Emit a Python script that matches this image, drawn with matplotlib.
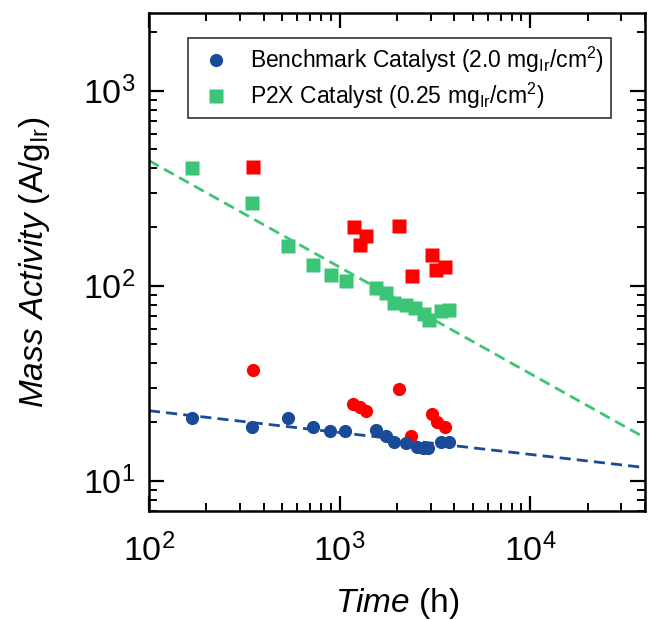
import matplotlib.pyplot as plt
import numpy as np

plt.rcParams['font.family'] = ['Liberation Sans', 'DejaVu Sans']
plt.rcParams['mathtext.fontset'] = 'custom'
plt.rcParams['mathtext.rm'] = 'Liberation Sans'
plt.rcParams['mathtext.it'] = 'Liberation Sans:italic'

# benchmark catalyst (blue circles)
t_bench = [169, 345, 534, 721, 891, 1069, 1545, 1755, 1926, 2217, 2560, 2730, 2912, 3415, 3727]
ma_bench = [20.9, 18.8, 21.0, 18.8, 18.0, 18.0, 18.2, 17.0, 15.85, 15.7, 14.9, 14.8, 14.8, 15.9, 15.9]

# P2X catalyst (green squares)
t_p2x = [169, 345, 534, 724, 896, 1077, 1545, 1755, 1926, 2217, 2500, 2763, 2933, 3415, 3727]
ma_p2x = [401, 265, 160, 128, 114, 106, 97, 92, 82, 80, 77, 72, 67, 74, 75]

# red points
t_red_circ = [352, 1175, 1275, 1380, 2043, 2382, 3052, 3236, 3560]
ma_red_circ = [37.0, 24.9, 23.8, 22.9, 29.7, 17.0, 22.1, 19.9, 18.9]
t_red_sq = [352, 1191, 1275, 1371, 2043, 2400, 3052, 3203, 3560]
ma_red_sq = [407, 199, 162, 179, 202, 112, 143, 121, 125]

# power-law fits  y = a * t^b
fit_bench = (38.3, -0.112)
fit_p2x = (5410, -0.546)

blue = '#1a4b98'
green = '#3cc477'
red = '#ff0000'

fig = plt.figure(figsize=(6.49, 6.2), dpi=100)
ax = fig.add_axes([0.2296, 0.1758, 0.7642, 0.8032])

tt = np.logspace(2, np.log10(4e4), 200)
ax.plot(tt, fit_bench[0] * tt ** fit_bench[1], color=blue, lw=2, dashes=(4, 2.2), zorder=1)
ax.plot(tt, fit_p2x[0] * tt ** fit_p2x[1], color=green, lw=2, dashes=(4, 2.2), zorder=1)

ax.plot(t_red_circ, ma_red_circ, 'o', color=red, ms=9.5, mec='none', zorder=2)
ax.plot(t_red_sq, ma_red_sq, 's', color=red, ms=9.5, mec='none', zorder=2)
ax.plot(t_bench, ma_bench, 'o', color=blue, ms=9.5, mec='none', zorder=3,
        label=r'Benchmark Catalyst (2.0 mg$_{\mathrm{Ir}}$/cm$^{2}$)')
ax.plot(t_p2x, ma_p2x, 's', color=green, ms=9.5, mec='none', zorder=3,
        label=r'P2X Catalyst (0.25 mg$_{\mathrm{Ir}}$/cm$^{2}$)')

ax.set_xscale('log')
ax.set_yscale('log')
ax.set_xlim(100, 4e4)
ax.set_ylim(7, 2500)

for s in ax.spines.values():
    s.set_linewidth(1.8)
ax.tick_params(which='major', direction='in', length=11, width=1.6, top=True, right=True, labelsize=24.5)
ax.tick_params(which='minor', direction='in', length=5.5, width=1.4, top=True, right=True)
ax.tick_params(axis='x', which='major', pad=16)
ax.tick_params(axis='y', which='major', pad=10)

ax.set_xlabel(r'$\it{Time}$ (h)', fontsize=24, labelpad=13)
ax.set_ylabel(r'$\it{Mass\ Activity}$ (A/g$_{\mathrm{Ir}}$)', fontsize=24, labelpad=22)

leg = ax.legend(loc='upper left', bbox_to_anchor=(0.079, 0.95), borderaxespad=0, fontsize=16.5,
                frameon=True, fancybox=False, handlelength=1.8, handletextpad=0.6,
                markerscale=1.0, labelspacing=0.25, borderpad=0.3)
leg.get_frame().set_edgecolor('black')
leg.get_frame().set_linewidth(1.2)

plt.savefig('out.png', dpi=100)
